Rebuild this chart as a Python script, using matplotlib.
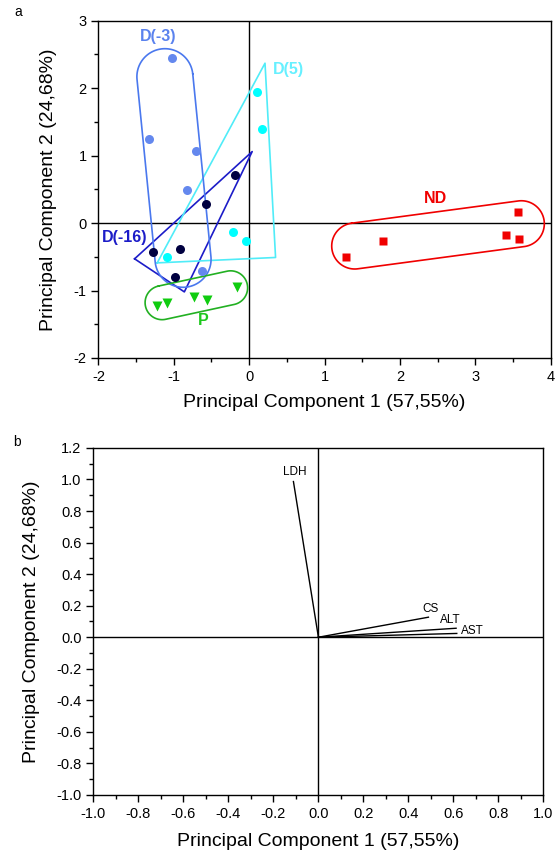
import numpy as np
import matplotlib
matplotlib.use("Agg")
import matplotlib.pyplot as plt
from matplotlib.ticker import MultipleLocator

plt.rcParams["font.family"] = ["Liberation Sans", "DejaVu Sans"]
plt.rcParams["axes.unicode_minus"] = False

# ---------------------------
# Panel a: PCA scores
# ---------------------------
d3_x = [-1.02, -1.33, -0.71, -0.82, -0.62]
d3_y = [2.44, 1.24, 1.07, 0.49, -0.71]
d5_x = [0.11, 0.17, -0.21, -0.04, -1.09]
d5_y = [1.94, 1.40, -0.13, -0.27, -0.50]
d16_x = [-0.19, -0.57, -1.28, -0.92, -0.98]
d16_y = [0.71, 0.28, -0.43, -0.39, -0.80]
p_x = [-1.22, -1.09, -0.73, -0.56, -0.16]
p_y = [-1.23, -1.19, -1.10, -1.14, -0.95]
nd_x = [3.57, 3.41, 3.58, 1.77, 1.28]
nd_y = [0.17, -0.18, -0.23, -0.27, -0.50]

# hand-drawn group outlines (data coords)
d16_hull_x = [-1.52, -0.86, 0.04]
d16_hull_y = [-0.53, -1.02, 1.06]
d5_hull_x = [-1.22, 0.35, 0.21]
d5_hull_y = [-0.59, -0.51, 2.37]
# stadium outlines: end centres + radius in pixels
d3_caps = ((-1.118, 2.17), (-0.877, -0.537), 28)
p_caps = ((-1.155, -1.18), (-0.246, -0.96), 17)
nd_caps = ((1.40, -0.34), (3.61, -0.01), 23)

# ---------------------------
# Panel b: loadings
# ---------------------------
var_names = ["LDH", "CS", "ALT", "AST"]
load_x = [-0.111, 0.489, 0.612, 0.615]
load_y = [0.987, 0.127, 0.057, 0.024]

C_D3 = "#6488EE"
C_D16 = "#1C1CC8"
C_P = "#1EC81E"
C_ND = "#F00000"

fig = plt.figure(figsize=(5.55, 8.56), dpi=100)


def style_axes(ax):
    for s in ax.spines.values():
        s.set_linewidth(1.0)
    ax.tick_params(which="major", direction="out", length=5, width=1, labelsize=10.5, pad=3.5)
    ax.tick_params(which="minor", direction="out", length=3, width=1)


def stadium(ax, caps, color):
    (x1, y1), (x2, y2), r = caps
    a = ax.transData.transform((x1, y1))
    b = ax.transData.transform((x2, y2))
    d = b - a
    ang = np.arctan2(d[1], d[0])
    t1 = np.linspace(ang + np.pi / 2, ang + 3 * np.pi / 2, 60)
    t2 = np.linspace(ang - np.pi / 2, ang + np.pi / 2, 60)
    arc1 = np.c_[a[0] + r * np.cos(t1), a[1] + r * np.sin(t1)]
    arc2 = np.c_[b[0] + r * np.cos(t2), b[1] + r * np.sin(t2)]
    pts = np.vstack([arc1, arc2, arc1[:1]])
    pts = ax.transData.inverted().transform(pts)
    ax.plot(pts[:, 0], pts[:, 1], color=color, lw=1.2)


# ---- panel a ----
ax1 = fig.add_axes([0.1773, 0.5818, 0.815, 0.394])
ax1.set_xlim(-2, 4)
ax1.set_ylim(-2, 3)
ax1.xaxis.set_major_locator(MultipleLocator(1))
ax1.xaxis.set_minor_locator(MultipleLocator(0.5))
ax1.yaxis.set_major_locator(MultipleLocator(1))
ax1.yaxis.set_minor_locator(MultipleLocator(0.5))
style_axes(ax1)
ax1.axhline(0, color="black", lw=1.0, zorder=1)
ax1.axvline(0, color="black", lw=1.0, zorder=1)

ax1.plot(d16_hull_x + d16_hull_x[:1], d16_hull_y + d16_hull_y[:1], color=C_D16, lw=1.2)
ax1.plot(d5_hull_x + d5_hull_x[:1], d5_hull_y + d5_hull_y[:1], color="#50ECF8", lw=1.2)
stadium(ax1, d3_caps, "#4A78EE")
stadium(ax1, p_caps, "#22B022")
stadium(ax1, nd_caps, C_ND)

ax1.plot(d3_x, d3_y, "o", color=C_D3, ms=6.5, mec="none", zorder=3)
ax1.plot(d5_x, d5_y, "o", color="#00FFFF", ms=6.5, mec="none", zorder=3)
ax1.plot(d16_x, d16_y, "o", color="#000040", ms=6.5, mec="none", zorder=3)
ax1.plot(p_x, p_y, "v", color="#10CC10", ms=7.5, mec="none", zorder=3)
ax1.plot(nd_x, nd_y, "s", color=C_ND, ms=5.5, mec="none", zorder=3)

lbl = dict(fontsize=11.5, fontweight="bold", ha="center", va="center")
ax1.text(-1.21, 2.77, "D(-3)", color="#5A82EE", **lbl)
ax1.text(0.52, 2.27, "D(5)", color="#66F0FF", **lbl)
ax1.text(-1.65, -0.21, "D(-16)", color=C_D16, **lbl)
ax1.text(-0.61, -1.44, "P", color=C_P, **lbl)
ax1.text(2.47, 0.36, "ND", color=C_ND, **lbl)

ax1.set_xlabel("Principal Component 1 (57,55%)", fontsize=14, labelpad=7)
ax1.set_ylabel("Principal Component 2 (24,68%)", fontsize=14, labelpad=12)
fig.text(0.033, 0.986, "a", fontsize=10, ha="center", va="center")

# ---- panel b ----
ax2 = fig.add_axes([0.1683, 0.0713, 0.8108, 0.4054])
ax2.set_xlim(-1.0, 1.0)
ax2.set_ylim(-1.0, 1.2)
ax2.xaxis.set_major_locator(MultipleLocator(0.2))
ax2.xaxis.set_minor_locator(MultipleLocator(0.1))
ax2.yaxis.set_major_locator(MultipleLocator(0.2))
ax2.yaxis.set_minor_locator(MultipleLocator(0.1))
ax2.xaxis.set_major_formatter(lambda v, pos: f"{v:.1f}")
ax2.yaxis.set_major_formatter(lambda v, pos: f"{v:.1f}")
style_axes(ax2)
ax2.axhline(0, color="black", lw=1.0, zorder=1)
ax2.axvline(0, color="black", lw=1.0, zorder=1)

label_off = {"LDH": (0.004, 0.059), "CS": (0.009, 0.051),
             "ALT": (-0.027, 0.053), "AST": (0.067, 0.018)}
for name, lx, ly in zip(var_names, load_x, load_y):
    ax2.plot([0, lx], [0, ly], color="black", lw=1.0)
    dx, dy = label_off[name]
    ax2.text(lx + dx, ly + dy, name, fontsize=8.5, ha="center", va="center")

ax2.set_xlabel("Principal Component 1 (57,55%)", fontsize=14, labelpad=9)
ax2.set_ylabel("Principal Component 2 (24,68%)", fontsize=14, labelpad=12)
fig.text(0.031, 0.484, "b", fontsize=10, ha="center", va="center")

fig.savefig("out.png", dpi=100)
